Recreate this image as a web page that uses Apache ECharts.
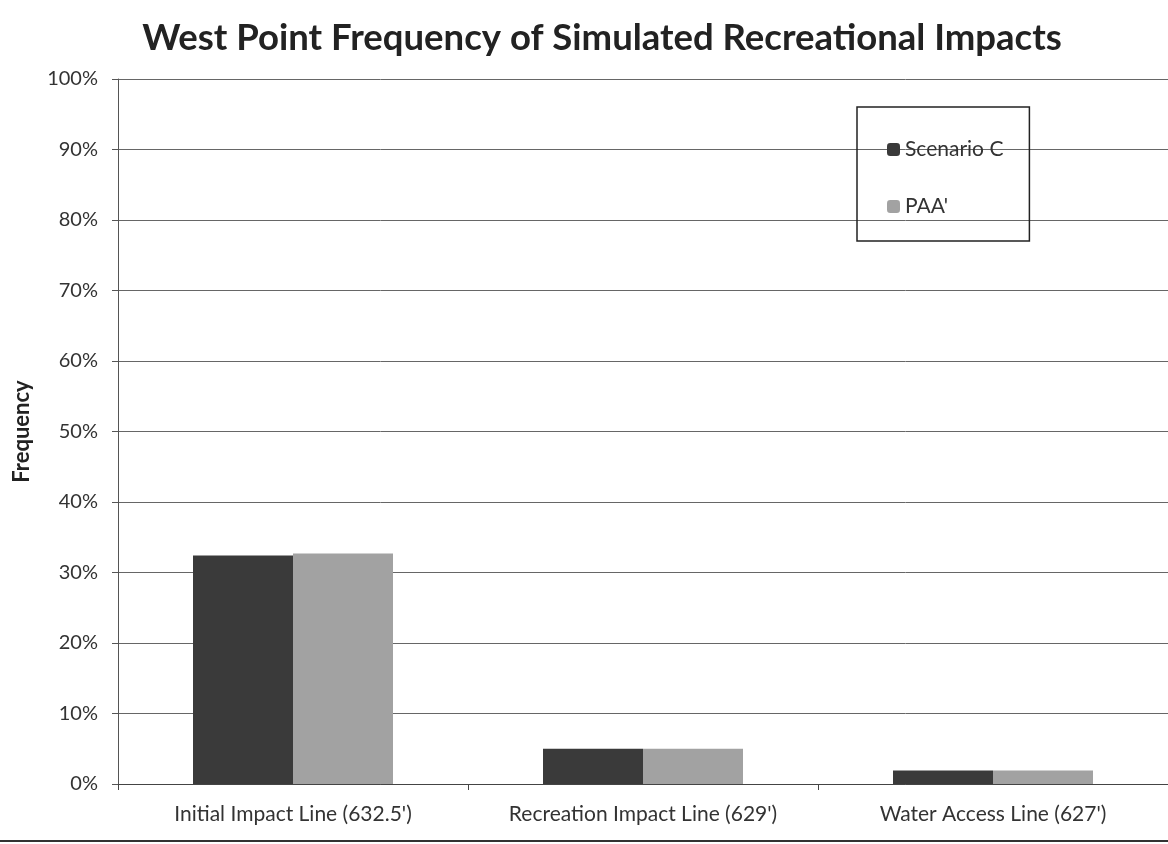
<!DOCTYPE html>
<html>
<head>
<meta charset="utf-8">
<script src="https://cdn.jsdelivr.net/npm/echarts@6/dist/echarts.min.js"></script>
<style>
html,body{margin:0;padding:0;background:#fff;}
#chart{width:1168px;height:844px;}
</style>
</head>
<body>
<div id="chart"></div>
<script>
const categories = ["Initial Impact Line (632.5')", "Recreation Impact Line (629')", "Water Access Line (627')"];
const scenarioC = [32.4, 5.0, 1.9];
const paa = [32.7, 5.0, 1.9];
const yTicks = [0, 10, 20, 30, 40, 50, 60, 70, 80, 90, 100];

const font = 'Lato, "Open Sans", sans-serif';
const chart = echarts.init(document.getElementById('chart'));
chart.setOption({
  animation: false,
  backgroundColor: '#fff',
  title: {
    text: 'West Point Frequency of Simulated Recreational Impacts',
    left: 597, top: 15, textAlign: 'center',
    textStyle: {fontFamily: font, fontWeight: 'bold', fontSize: 36.5, color: '#222'}
  },
  legend: {
    orient: 'vertical', left: 857, top: 107,
    padding: [32, 26, 24, 30], itemGap: 36,
    itemWidth: 13, itemHeight: 13,
    borderColor: '#222', borderWidth: 1.5,
    textStyle: {fontFamily: font, fontSize: 21, color: '#333'},
    data: ['Scenario C', "PAA'"]
  },
  grid: {left: 118, right: -17, top: 79, bottom: 60, containLabel: false},
  xAxis: {
    type: 'category', data: categories,
    axisLine: {lineStyle: {color: '#444', width: 1}},
    axisTick: {show: true, length: 6, lineStyle: {color: '#444'}},
    axisLabel: {fontFamily: font, fontSize: 21, color: '#333', margin: 20}
  },
  yAxis: {
    type: 'value', min: 0, max: 100, interval: 10,
    name: 'Frequency', nameLocation: 'middle', nameGap: 85, nameRotate: 90,
    nameTextStyle: {fontFamily: font, fontWeight: 'bold', fontSize: 22, color: '#222'},
    axisLine: {show: true, lineStyle: {color: '#555'}},
    axisTick: {show: true, length: 6, lineStyle: {color: '#555'}},
    axisLabel: {fontFamily: font, fontSize: 20, color: '#333', margin: 20,
      formatter: v => yTicks.includes(v) ? v + '%' : ''},
    splitLine: {lineStyle: {color: '#666', width: 1}}
  },
  series: [
    {name: 'Scenario C', type: 'bar', data: scenarioC, barWidth: 100, barGap: '0%',
     itemStyle: {color: '#3a3a3a'}},
    {name: "PAA'", type: 'bar', data: paa, barWidth: 100, barGap: '0%',
     itemStyle: {color: '#a2a2a2'}}
  ],
  graphic: [
    {type: 'line', shape: {x1: 0, y1: 841, x2: 1168, y2: 841}, style: {stroke: '#333', lineWidth: 2}}
  ]
});
</script>
</body>
</html>
